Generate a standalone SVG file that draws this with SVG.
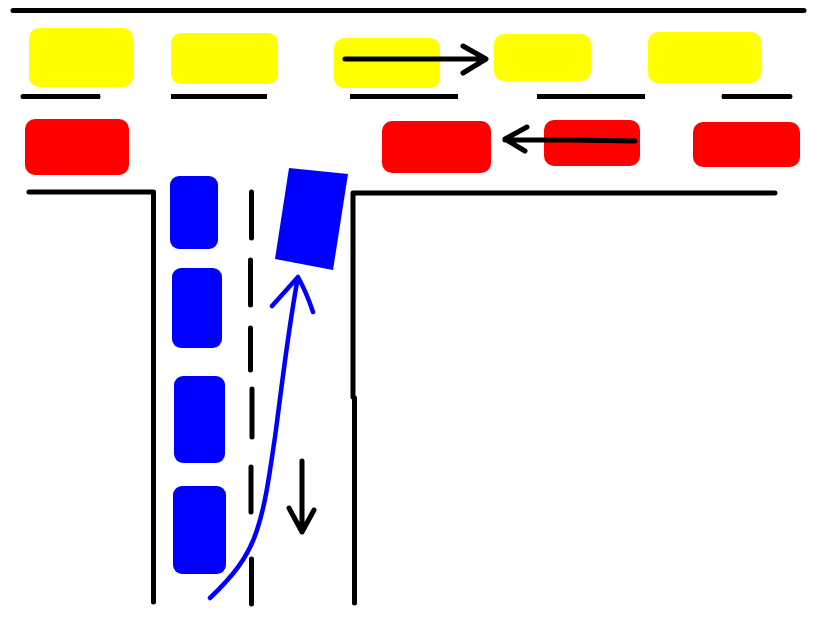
<svg xmlns="http://www.w3.org/2000/svg" width="827" height="637" viewBox="0 0 827 637">
<style>
.y{fill:#ffff00}.r{fill:#ff0000}.b{fill:#0000ff}
.k{fill:none;stroke:#000;stroke-width:5;stroke-linecap:round;stroke-linejoin:round}
.f{fill:none;stroke:#000;stroke-width:5}
.bl{fill:none;stroke:#0000ff;stroke-width:4.5;stroke-linecap:round;stroke-linejoin:round}
</style>
<rect width="827" height="637" fill="#fff"/>
<g id="y1"><rect class="y" x="29" y="28" width="104" height="59" rx="10"/></g>
<g id="y2"><rect class="y" x="171" y="33" width="107" height="51" rx="10"/></g>
<g id="y3"><rect class="y" x="334" y="38" width="106" height="50" rx="10"/></g>
<g id="y4"><rect class="y" x="494" y="34" width="97" height="47" rx="10"/></g>
<g id="y5"><rect class="y" x="648" y="32" width="113" height="51" rx="10"/></g>
<g id="r1"><rect class="r" x="25" y="119" width="104" height="56" rx="10"/></g>
<g id="r2"><rect class="r" x="382" y="121" width="109" height="52" rx="10"/></g>
<g id="r3"><rect class="r" x="544" y="120" width="96" height="46" rx="10"/></g>
<g id="r4"><rect class="r" x="693" y="122" width="107" height="45" rx="10"/></g>
<g id="b1"><rect class="b" x="170" y="176" width="48" height="73" rx="9"/></g>
<g id="b2"><rect class="b" x="172" y="268" width="50" height="80" rx="9"/></g>
<g id="b3"><rect class="b" x="174" y="376" width="51" height="87" rx="9"/></g>
<g id="b4"><rect class="b" x="173" y="486" width="53" height="88" rx="9"/></g>
<g id="b5"><polygon class="b" points="289,168 348,174 333,270 275,259"/></g>
<g id="connectors">
<path class="k" d="M13 10.500H804"/>
<path class="k" d="M23 96.500H98M724 96.500H790"/>
<path class="f" d="M171 96.500H267M350 96.500H458M537 96.500H645M722 96.500H745M98 96.500H100"/>
<path class="k" d="M29 192H153.500V602"/>
<path class="k" d="M775 193H353V397"/>
<path class="k" d="M354.500 398V603"/>
<path class="k" d="M251.500 192V238M250.500 260V305M250.500 328V370M252 389V437M251 467V512M251.500 559V604"/>
<path class="k" d="M345 59H485M463 46L486 59L463 73"/>
<path class="k" d="M635 141L570 140H505M527 127L505 139L525 151"/>
<path class="k" d="M302 461V532M289 508L302 532L314 510"/>
<path class="bl" d="M210 598C232 577 248 558 257 530C266 503 270 470 275 437C282 385 288 330 298 277M272 306C282 295 290 286 298 277C304 288 309 300 313 312"/>
</g>
</svg>
